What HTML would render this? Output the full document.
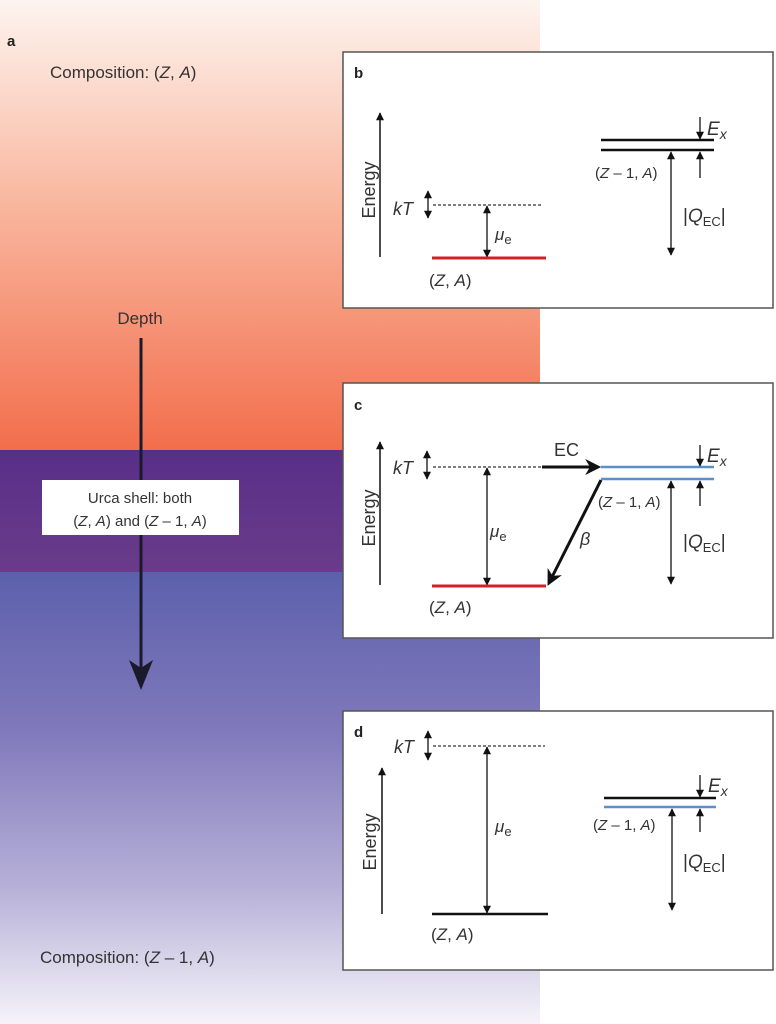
<!DOCTYPE html>
<html><head><meta charset="utf-8"><style>
html,body{margin:0;padding:0;background:#fff;}
svg{display:block;font-family:"Liberation Sans",Arial,sans-serif;}
</style></head><body>
<svg width="776" height="1024" viewBox="0 0 776 1024" xmlns="http://www.w3.org/2000/svg">
<defs>
<linearGradient id="g1" x1="0" y1="0" x2="0" y2="1">
<stop offset="0" stop-color="#fdf4ef"/><stop offset="0.45" stop-color="#f9b79f"/><stop offset="1" stop-color="#f26e4c"/></linearGradient>
<linearGradient id="g2" x1="0" y1="0" x2="0" y2="1">
<stop offset="0" stop-color="#582f87"/><stop offset="1" stop-color="#6a3b8b"/></linearGradient>
<linearGradient id="g3" x1="0" y1="0" x2="0" y2="1">
<stop offset="0" stop-color="#5c60ac"/><stop offset="0.35" stop-color="#8079bb"/><stop offset="0.7" stop-color="#b7b1d8"/><stop offset="1" stop-color="#f5f3f9"/></linearGradient>
<marker id="ah" viewBox="0 0 10 10" refX="9" refY="5" markerWidth="9" markerHeight="8" orient="auto-start-reverse" markerUnits="userSpaceOnUse"><path d="M0,0 L10,5 L0,10 z" fill="#111"/></marker>
<marker id="ahb" viewBox="0 0 10 10" refX="8" refY="5" markerWidth="16" markerHeight="16" orient="auto" markerUnits="userSpaceOnUse"><path d="M0,0 L10,5 L0,10 L3,5 z" fill="#111"/></marker>
</defs>
<rect x="0" y="0" width="540" height="450" fill="url(#g1)"/>
<rect x="0" y="450" width="540" height="122" fill="url(#g2)"/>
<rect x="0" y="572" width="540" height="452" fill="url(#g3)"/>

<text x="7" y="46" font-size="15" font-weight="bold" fill="#222">a</text>
<text x="50" y="78" font-size="17" fill="#333">Composition: (<tspan font-style="italic">Z</tspan>, <tspan font-style="italic">A</tspan>)</text>
<text x="140" y="324" font-size="17" fill="#333" text-anchor="middle">Depth</text>
<line x1="141" y1="338" x2="141" y2="668" stroke="#1a1a2a" stroke-width="3"/>
<path d="M129,660 L141,690 L153,660 L141,668 z" fill="#1a1a2a"/>
<rect x="42" y="480" width="197" height="55" fill="#fff"/>
<text x="140" y="503" font-size="15" fill="#333" text-anchor="middle">Urca shell: both</text>
<text x="140" y="526" font-size="15" fill="#333" text-anchor="middle">(<tspan font-style="italic">Z</tspan>, <tspan font-style="italic">A</tspan>) and (<tspan font-style="italic">Z</tspan> – 1, <tspan font-style="italic">A</tspan>)</text>
<text x="40" y="963" font-size="17" fill="#333">Composition: (<tspan font-style="italic">Z</tspan> – 1, <tspan font-style="italic">A</tspan>)</text>

<g stroke="#555" stroke-width="1.5" fill="#fff">
<rect x="343" y="52" width="430" height="256"/>
<rect x="343" y="383" width="430" height="255"/>
<rect x="343" y="711" width="430" height="259"/>
</g>

<g font-size="17" fill="#333">
<!-- b -->
<text x="354" y="78" font-size="15" font-weight="bold" fill="#222">b</text>
<line x1="380" y1="257" x2="380" y2="113" stroke="#111" stroke-width="1.5" marker-end="url(#ah)"/>
<text transform="translate(375,190) rotate(-90)" text-anchor="middle" font-size="18">Energy</text>
<text x="393" y="215" font-size="18" font-style="italic">kT</text>
<line x1="428" y1="191" x2="428" y2="218" stroke="#111" stroke-width="1.3" marker-start="url(#ah)" marker-end="url(#ah)"/>
<line x1="433" y1="205" x2="543" y2="205" stroke="#333" stroke-width="1.2" stroke-dasharray="3,2"/>
<line x1="487" y1="206" x2="487" y2="257" stroke="#111" stroke-width="1.3" marker-start="url(#ah)" marker-end="url(#ah)"/>
<text x="495" y="240" font-style="italic">μ<tspan font-style="normal" font-size="13" dy="4">e</tspan></text>
<line x1="432" y1="258" x2="546" y2="258" stroke="#d0202a" stroke-width="3"/>
<text x="429" y="286">(<tspan font-style="italic">Z</tspan>, <tspan font-style="italic">A</tspan>)</text>
<line x1="601" y1="140" x2="714" y2="140" stroke="#111" stroke-width="2.5"/>
<line x1="601" y1="150" x2="714" y2="150" stroke="#111" stroke-width="2.5"/>
<line x1="700" y1="117" x2="700" y2="139" stroke="#111" stroke-width="1.3" marker-end="url(#ah)"/>
<text x="707" y="135" font-size="19" font-style="italic">E<tspan font-size="14" dy="4">x</tspan></text>
<line x1="700" y1="178" x2="700" y2="152" stroke="#111" stroke-width="1.3" marker-end="url(#ah)"/>
<text x="595" y="178" font-size="15">(<tspan font-style="italic">Z</tspan> – 1, <tspan font-style="italic">A</tspan>)</text>
<line x1="671" y1="152" x2="671" y2="255" stroke="#111" stroke-width="1.3" marker-start="url(#ah)" marker-end="url(#ah)"/>
<text x="683" y="222" font-size="19">|<tspan font-style="italic">Q</tspan><tspan font-size="13" dy="4">EC</tspan><tspan dy="-4">|</tspan></text>

<!-- c -->
<text x="354" y="410" font-size="15" font-weight="bold" fill="#222">c</text>
<line x1="380" y1="585" x2="380" y2="442" stroke="#111" stroke-width="1.5" marker-end="url(#ah)"/>
<text transform="translate(375,518) rotate(-90)" text-anchor="middle" font-size="18">Energy</text>
<text x="393" y="474" font-size="18" font-style="italic">kT</text>
<line x1="427" y1="451" x2="427" y2="479" stroke="#111" stroke-width="1.3" marker-start="url(#ah)" marker-end="url(#ah)"/>
<line x1="433" y1="467" x2="541" y2="467" stroke="#333" stroke-width="1.2" stroke-dasharray="3,2"/>
<line x1="542" y1="467" x2="598" y2="467" stroke="#111" stroke-width="3" marker-end="url(#ahb)"/>
<text x="554" y="456" font-size="18">EC</text>
<line x1="601" y1="467" x2="714" y2="467" stroke="#5b8fc9" stroke-width="2.5"/>
<line x1="601" y1="479" x2="714" y2="479" stroke="#5b8fc9" stroke-width="2.5"/>
<line x1="700" y1="445" x2="700" y2="466" stroke="#111" stroke-width="1.3" marker-end="url(#ah)"/>
<text x="707" y="462" font-size="19" font-style="italic">E<tspan font-size="14" dy="4">x</tspan></text>
<line x1="700" y1="506" x2="700" y2="481" stroke="#111" stroke-width="1.3" marker-end="url(#ah)"/>
<text x="598" y="507" font-size="15">(<tspan font-style="italic">Z</tspan> – 1, <tspan font-style="italic">A</tspan>)</text>
<line x1="671" y1="481" x2="671" y2="584" stroke="#111" stroke-width="1.3" marker-start="url(#ah)" marker-end="url(#ah)"/>
<text x="683" y="548" font-size="19">|<tspan font-style="italic">Q</tspan><tspan font-size="13" dy="4">EC</tspan><tspan dy="-4">|</tspan></text>
<line x1="487" y1="468" x2="487" y2="585" stroke="#111" stroke-width="1.3" marker-start="url(#ah)" marker-end="url(#ah)"/>
<text x="490" y="537" font-style="italic">μ<tspan font-style="normal" font-size="13" dy="4">e</tspan></text>
<line x1="432" y1="586" x2="546" y2="586" stroke="#d0202a" stroke-width="3"/>
<line x1="601" y1="480" x2="549" y2="583" stroke="#111" stroke-width="3" marker-end="url(#ahb)"/>
<text x="580" y="545" font-size="18" font-style="italic">β</text>
<text x="429" y="613">(<tspan font-style="italic">Z</tspan>, <tspan font-style="italic">A</tspan>)</text>

<!-- d -->
<text x="354" y="737" font-size="15" font-weight="bold" fill="#222">d</text>
<line x1="382" y1="914" x2="382" y2="768" stroke="#111" stroke-width="1.5" marker-end="url(#ah)"/>
<text transform="translate(376,842) rotate(-90)" text-anchor="middle" font-size="18">Energy</text>
<text x="394" y="753" font-size="18" font-style="italic">kT</text>
<line x1="428" y1="731" x2="428" y2="760" stroke="#111" stroke-width="1.3" marker-start="url(#ah)" marker-end="url(#ah)"/>
<line x1="433" y1="746" x2="545" y2="746" stroke="#333" stroke-width="1.2" stroke-dasharray="3,2"/>
<line x1="487" y1="747" x2="487" y2="913" stroke="#111" stroke-width="1.3" marker-start="url(#ah)" marker-end="url(#ah)"/>
<text x="495" y="832" font-style="italic">μ<tspan font-style="normal" font-size="13" dy="4">e</tspan></text>
<line x1="432" y1="914" x2="548" y2="914" stroke="#111" stroke-width="2.5"/>
<text x="431" y="940">(<tspan font-style="italic">Z</tspan>, <tspan font-style="italic">A</tspan>)</text>
<line x1="604" y1="798" x2="716" y2="798" stroke="#111" stroke-width="2.5"/>
<line x1="604" y1="807" x2="716" y2="807" stroke="#5b8fc9" stroke-width="2.5"/>
<line x1="700" y1="775" x2="700" y2="797" stroke="#111" stroke-width="1.3" marker-end="url(#ah)"/>
<text x="708" y="792" font-size="19" font-style="italic">E<tspan font-size="14" dy="4">x</tspan></text>
<line x1="700" y1="832" x2="700" y2="809" stroke="#111" stroke-width="1.3" marker-end="url(#ah)"/>
<text x="593" y="830" font-size="15">(<tspan font-style="italic">Z</tspan> – 1, <tspan font-style="italic">A</tspan>)</text>
<line x1="672" y1="809" x2="672" y2="910" stroke="#111" stroke-width="1.3" marker-start="url(#ah)" marker-end="url(#ah)"/>
<text x="683" y="868" font-size="19">|<tspan font-style="italic">Q</tspan><tspan font-size="13" dy="4">EC</tspan><tspan dy="-4">|</tspan></text>
</g>
</svg>
</body></html>
